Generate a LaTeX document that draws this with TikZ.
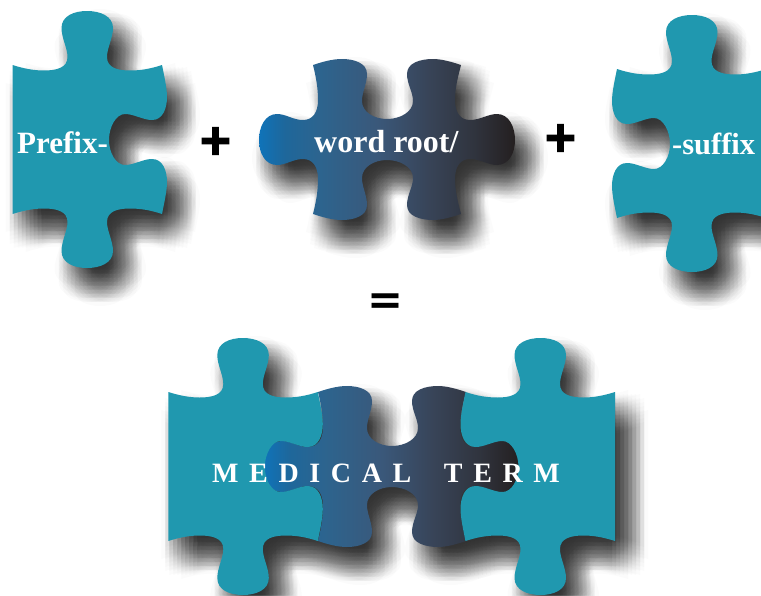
\documentclass[tikz,border=0pt]{standalone}
\usepackage{fontspec}
\setmainfont{Liberation Serif}
\newfontfamily\symfont[BoldFeatures={FakeBold=4}]{DejaVu Sans}
\newfontfamily\eqfont{DejaVu Sans}
\newfontfamily\trackfont[LetterSpace=38]{Liberation Serif}
\definecolor{tealpiece}{RGB}{32,152,175}
\definecolor{ga}{RGB}{15,115,185}
\definecolor{gb}{RGB}{30,103,155}
\definecolor{gc}{RGB}{45,100,142}
\definecolor{gd}{RGB}{58,88,122}
\definecolor{ge}{RGB}{56,68,88}
\definecolor{gf}{RGB}{48,52,62}
\definecolor{gg}{RGB}{36,31,32}
\pgfdeclarehorizontalshading{wordgrad}{100bp}{
 color(0bp)=(ga);
 color(25bp)=(ga);
 color(30bp)=(gb);
 color(37bp)=(gc);
 color(48bp)=(gd);
 color(58bp)=(ge);
 color(67bp)=(gf);
 color(75bp)=(gg);
 color(100bp)=(gg)}
\def\tealpath{(12.5,65)
 .. controls (25,69) and (35,70.5) .. (44,70.5)
 .. controls (56,70.5) and (67.5,68) .. (67.5,57)
 .. controls (67.5,48) and (61.5,38) .. (61.5,28)
 .. controls (61.5,16) and (74,11) .. (87,11)
 .. controls (100,11) and (113,16) .. (113,28)
 .. controls (113,38) and (107,48) .. (107,57)
 .. controls (107,68) and (118,70.5) .. (130,70.5)
 .. controls (140,70.5) and (150,69) .. (162,65)
 .. controls (164,75) and (167,88) .. (167,97)
 .. controls (167,108) and (163,120) .. (152,120)
 .. controls (143,120) and (134,114) .. (125,114)
 .. controls (116,114) and (109,127) .. (109,140)
 .. controls (109,153) and (116,165) .. (125,165)
 .. controls (134,165) and (143,159) .. (152,159)
 .. controls (163,159) and (167,171) .. (167,182)
 .. controls (167,191) and (164,204) .. (162,214)
 .. controls (150,210) and (140,208.5) .. (130,208.5)
 .. controls (118,208.5) and (107,211) .. (107,222)
 .. controls (107,231) and (113,241) .. (113,251)
 .. controls (113,263) and (100,268) .. (87,268)
 .. controls (74,268) and (61.5,263) .. (61.5,251)
 .. controls (61.5,241) and (67.5,231) .. (67.5,222)
 .. controls (67.5,211) and (56,208.5) .. (44,208.5)
 .. controls (35,208.5) and (25,210) .. (12.5,214) -- cycle}
\def\wordpath{(313,65)
 .. controls (322,62) and (332,59) .. (342,59)
 .. controls (354,59) and (367,63) .. (367,74)
 .. controls (367,84) and (362,92) .. (362,101)
 .. controls (362,112) and (374,119) .. (387,119)
 .. controls (400,119) and (413,112) .. (413,101)
 .. controls (413,92) and (407,84) .. (407,74)
 .. controls (407,63) and (420,59) .. (433,59)
 .. controls (442,59) and (452,62) .. (461,65)
 .. controls (458,77) and (455,88) .. (455,100)
 .. controls (455,112) and (460,120) .. (470,120)
 .. controls (480,120) and (488,114) .. (497,114)
 .. controls (509,114) and (515,127) .. (515,140)
 .. controls (515,153) and (509,165) .. (497,165)
 .. controls (488,165) and (480,159) .. (470,159)
 .. controls (460,159) and (455,167) .. (455,179)
 .. controls (455,191) and (458,202) .. (461,214)
 .. controls (452,217) and (442,220) .. (433,220)
 .. controls (420,220) and (407,216) .. (407,205)
 .. controls (407,195) and (413,187) .. (413,178)
 .. controls (413,167) and (400,160) .. (387,160)
 .. controls (374,160) and (362,167) .. (362,178)
 .. controls (362,187) and (367,195) .. (367,205)
 .. controls (367,216) and (354,220) .. (342,220)
 .. controls (332,220) and (322,217) .. (313,214)
 .. controls (316,202) and (318,191) .. (318,179)
 .. controls (318,167) and (313,159) .. (303,159)
 .. controls (293,159) and (286,165) .. (277,165)
 .. controls (265,165) and (259,153) .. (259,140)
 .. controls (259,127) and (265,114) .. (277,114)
 .. controls (286,114) and (293,120) .. (303,120)
 .. controls (313,120) and (318,112) .. (318,100)
 .. controls (318,88) and (316,77) .. (313,65) -- cycle}
\def\shx{13}\def\shy{18}
% one faint copy of a piece's shadow; many offset copies add up to a blur
\newcommand{\shadowcopy}[4]{%
 \begin{scope}[shift={(#2,#3)},xscale=#4]
  \fill[black,fill opacity=0.017] #1;
 \end{scope}}
\newcommand{\tealat}[3]{\begin{scope}[shift={(#1,#2)},xscale=#3]\fill[tealpiece] \tealpath;\end{scope}}
\newcommand{\wordat}[2]{\begin{scope}[shift={(#1,#2)}]\path[shading=wordgrad] \wordpath;\end{scope}}
\tikzset{
 label/.style={text=white,inner sep=0pt,anchor=base west,font=\fontsize{#1}{32}\selectfont\bfseries},
 term/.style={text=white,inner sep=0pt,anchor=base west,font=\fontsize{28}{30}\trackfont\bfseries},
 sym/.style={text=black,inner sep=0pt,font=\fontsize{42}{46}\symfont\bfseries},
 eqsym/.style={text=black,inner sep=0pt,font=\fontsize{43}{46}\eqfont\bfseries}
}
\begin{document}
\begin{tikzpicture}[x=1pt,y=-1pt]
\useasboundingbox (0,0) rectangle (761,595);
\fill[white] (0,0) rectangle (761,595);
\foreach \gi in {-5,...,5}{%
 \foreach \gj in {-5,...,5}{%
  \pgfmathtruncatemacro{\gr}{(\gi)*(\gi)+(\gj)*(\gj)}%
  \ifnum\gr<26
   \begin{scope}[shift={({\shx+4*(\gi)},{\shy+4*(\gj)})}]
    \shadowcopy{\tealpath}{0}{0}{1}
    \shadowcopy{\wordpath}{0}{0}{1}
    \shadowcopy{\tealpath}{779}{4}{-1}
    \shadowcopy{\tealpath}{155.8}{327}{1}
    \shadowcopy{\wordpath}{5}{327}{1}
    \shadowcopy{\tealpath}{627.5}{327}{-1}
   \end{scope}
  \fi
 }}
\tealat{0}{0}{1}
\wordat{0}{0}
\tealat{779}{4}{-1}
\wordat{5}{327}
\tealat{155.8}{327}{1}
\tealat{627.5}{327}{-1}
\node[label=31] (prefix) at (17,153) {Prefix-};
\node[label=32] (root) at (314,152) {word root/};
\node[label=30.5] (suffix) at (672,154) {-suffix};
\node[term] (medical) at (212,482) {MEDICAL\hspace{15pt} TERM};
\node[sym] (plusa) at (215.5,141) {+};
\node[sym] (plusb) at (560.5,138) {+};
\node[eqsym] (equals) at (386,304) {=};
\end{tikzpicture}
\end{document}
